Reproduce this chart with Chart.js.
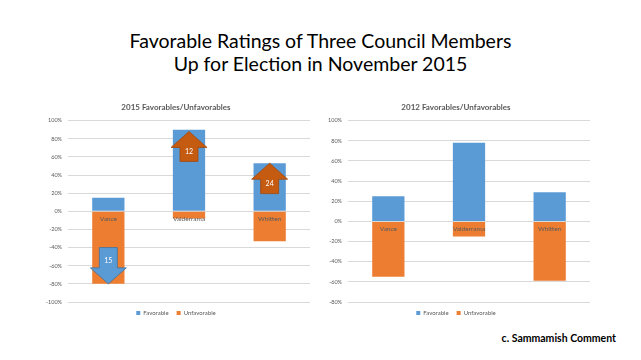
<!DOCTYPE html>
<html><head><meta charset="utf-8">
<script src="https://cdn.jsdelivr.net/npm/chart.js@4/dist/chart.umd.min.js"></script>
<style>
html,body{margin:0;padding:0;background:#fff;width:641px;height:360px;overflow:hidden;}
#title{position:absolute;left:0;top:29px;width:641px;text-align:center;font-family:Lato,"Open Sans",sans-serif;font-size:19.5px;line-height:23px;color:#000;}
#credit{position:absolute;left:470px;top:332px;width:146px;text-align:right;font-family:Lato,sans-serif;font-weight:bold;font-size:10.5px;color:#000;}
.box{position:absolute;top:97px;width:280px;height:232px;}
</style></head>
<body>
<div id="title">Favorable Ratings of Three Council Members<br>Up for Election in November 2015</div>
<div class="box" style="left:40px"><canvas id="c1" width="280" height="232"></canvas></div>
<div class="box" style="left:320px"><canvas id="c2" width="280" height="232"></canvas></div>
<div id="credit">c. Sammamish Comment</div>
<script>
const categories = ['Vance', 'Valderrama', 'Whitten'];
const fav2015 = [15, 90, 53];
const unfav2015 = [-80, -8, -33];
const fav2012 = [25, 78, 29];
const unfav2012 = [-55, -15, -59];
// change arrows on the 2015 chart (values in %)
const arrowFrom = [-40, 55, 19.5];
const arrowTo = [-80, 88, 53];
const arrowText = ['15', '12', '24'];
const arrowKind = ['fav', 'unfav', 'unfav'];

const BLUE = '#5b9bd5', ORANGE = '#ed7d31', DARKOR = '#c55a11', DARKBLUE = '#41719c';

const arrowPlugin = {
  id: 'arrows',
  afterDatasetsDraw(chart, args, opts) {
    if (!opts.show) return;
    const ctx = chart.ctx, xs = chart.scales.x, ys = chart.scales.y;
    for (let i = 0; i < arrowFrom.length; i++) {
      const cx = xs.getPixelForValue(i);
      const y0 = ys.getPixelForValue(arrowFrom[i]);
      const y1 = ys.getPixelForValue(arrowTo[i]);
      const dir = y1 < y0 ? -1 : 1;
      const headLen = 16, sw = 9, hw = 18;
      const yb = y1 - dir * headLen;
      ctx.save();
      ctx.beginPath();
      ctx.moveTo(cx - sw, y0);
      ctx.lineTo(cx - sw, yb);
      ctx.lineTo(cx - hw, yb);
      ctx.lineTo(cx, y1);
      ctx.lineTo(cx + hw, yb);
      ctx.lineTo(cx + sw, yb);
      ctx.lineTo(cx + sw, y0);
      ctx.closePath();
      const isFav = arrowKind[i] === 'fav';
      ctx.fillStyle = isFav ? BLUE : DARKOR;
      ctx.fill();
      ctx.lineWidth = 0.8;
      ctx.strokeStyle = isFav ? DARKBLUE : '#a04a0e';
      ctx.stroke();
      ctx.fillStyle = '#fff';
      ctx.font = '7px Lato, sans-serif';
      ctx.textAlign = 'center';
      ctx.textBaseline = 'middle';
      ctx.fillText(arrowText[i], cx, (y0 + yb) / 2 + dir * 3);
      ctx.restore();
    }
  }
};

function makeChart(id, title, fav, unfav, yMin, showArrows) {
  return new Chart(document.getElementById(id), {
    type: 'bar',
    data: {
      labels: categories,
      datasets: [
        { label: 'Favorable', data: fav, backgroundColor: BLUE, categoryPercentage: 1, barPercentage: 0.4 },
        { label: 'Unfavorable', data: unfav, backgroundColor: ORANGE, categoryPercentage: 1, barPercentage: 0.4 }
      ]
    },
    plugins: [arrowPlugin],
    options: {
      responsive: false,
      animation: false,
      layout: { padding: { left: 2, right: 10, top: 0, bottom: 3 } },
      plugins: {
        arrows: { show: showArrows },
        tooltip: { enabled: false },
        title: { display: true, text: title, color: '#595959', font: { family: 'Lato, sans-serif', size: 8, weight: 'bold' }, padding: { top: 6, bottom: 8 } },
        legend: { position: 'bottom', labels: { boxWidth: 4, boxHeight: 4, color: '#595959', font: { family: 'Lato, sans-serif', size: 6 }, padding: 8 } }
      },
      scales: {
        x: {
          stacked: true,
          position: { y: 0 },
          z: 1,
          grid: { display: false, drawTicks: false, z: 1 },
          border: { display: false },
          ticks: { z: 1, color: '#595959', font: { family: 'Lato, sans-serif', size: 6.5 }, padding: 4, autoSkip: false, maxRotation: 0 }
        },
        y: {
          stacked: true,
          min: yMin, max: 100,
          ticks: { stepSize: 20, color: '#595959', font: { family: 'Lato, sans-serif', size: 5.5 }, padding: 6, callback: v => v + '%' },
          grid: { color: '#d9d9d9', drawTicks: false },
          border: { display: false },
          afterFit(scale) { scale.width = 26; }
        }
      }
    }
  });
}
makeChart('c1', '2015 Favorables/Unfavorables', fav2015, unfav2015, -100, true);
makeChart('c2', '2012 Favorables/Unfavorables', fav2012, unfav2012, -80, false);
</script>
</body></html>
